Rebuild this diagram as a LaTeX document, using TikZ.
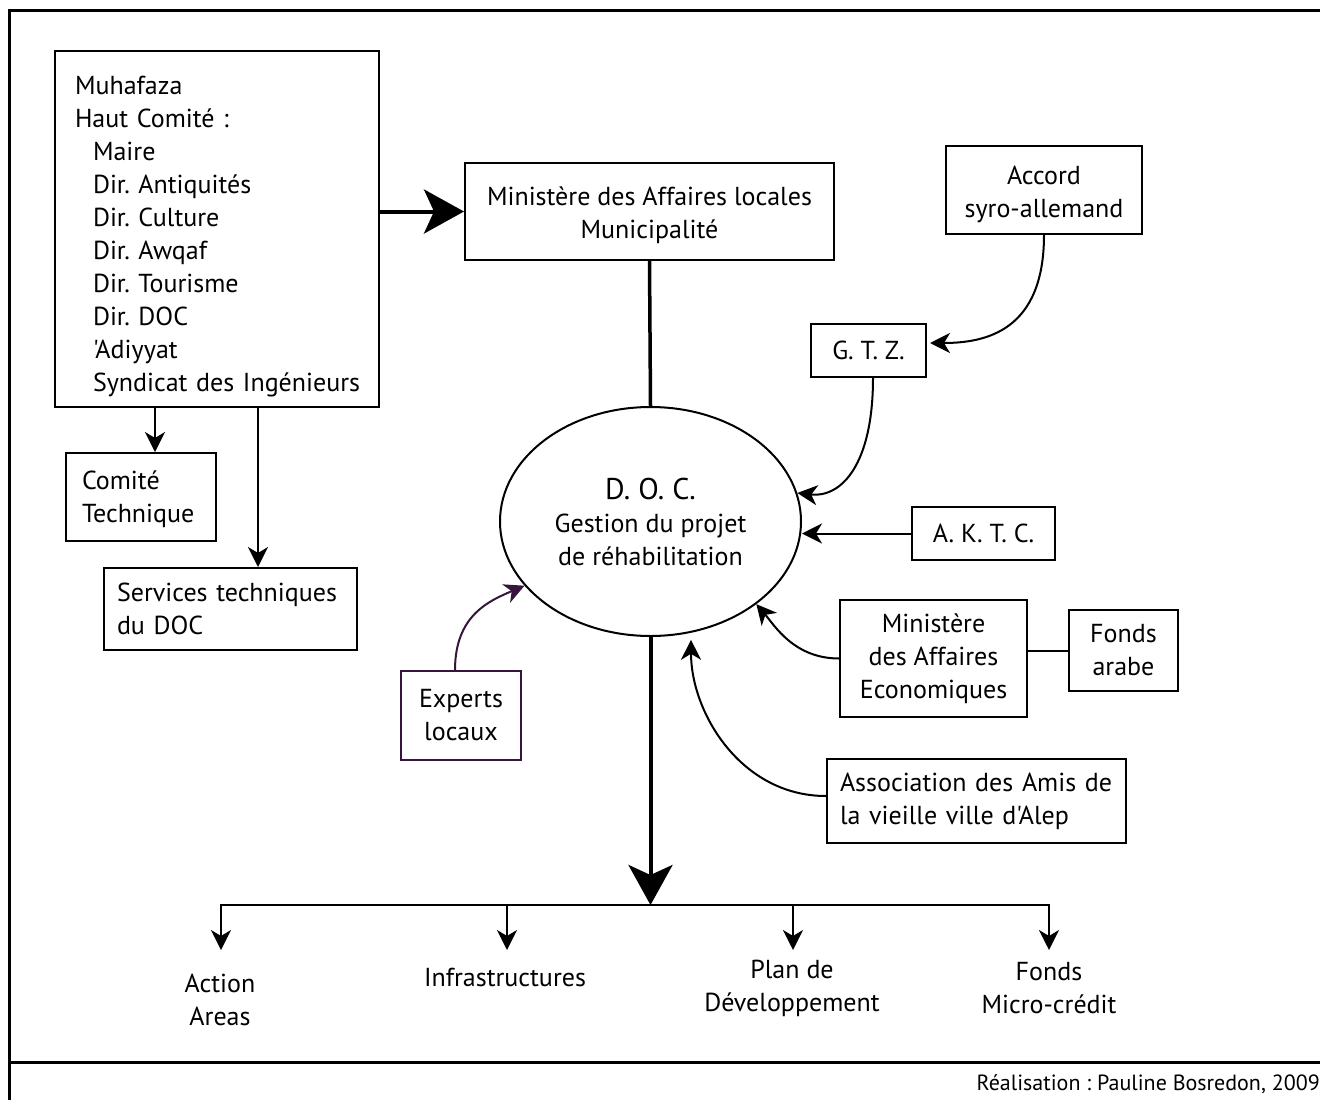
\documentclass[tikz,border=0pt]{standalone}
\usepackage{fontspec}
\setmainfont{PT Sans}[Ligatures=TeXOff]
\usetikzlibrary{arrows.meta,shapes.geometric}
\definecolor{expcol}{RGB}{55,20,60}
\frenchspacing
\newcommand{\toppad}[1]{\rule{0pt}{#1}}
\begin{document}
\begin{tikzpicture}[x=1pt,y=-1pt,
  every node/.style={font=\fontsize{26}{33}\selectfont},
  box/.style={draw, line width=2pt, inner sep=0pt, align=center},
  conn/.style={line width=2pt},
  sarr/.style={conn, -{Stealth[length=20pt,width=20pt,inset=6pt]}},
  barr/.style={line width=4pt, -{Stealth[length=40pt,width=44pt,inset=10pt]}},
  lab/.style={inner sep=0pt, align=center}
]
\useasboundingbox (0,0) rectangle (1320,1100);
% frame
\draw[line width=3pt] (9,1100) -- (9,10) -- (1320,10);
\draw[line width=3pt] (9,1062) -- (1320,1062);

% boxes
\node[box, minimum width=324pt, minimum height=356pt, align=left, text width=284pt] (muh) at (217,229)
 {\toppad{33pt}Muhafaza\\Haut Comité :\\\hspace*{18pt}Maire\\\hspace*{18pt}Dir. Antiquités\\\hspace*{18pt}Dir. Culture\\\hspace*{18pt}Dir. Awqaf\\\hspace*{18pt}Dir. Tourisme\\\hspace*{18pt}Dir. DOC\\\hspace*{18pt}'Adiyyat\\\hspace*{18pt}\mbox{Syndicat des Ingénieurs}};
\node[box, minimum width=369pt, minimum height=97pt] (min) at (649.5,211.5) {\toppad{26pt}Ministère des Affaires locales\\Municipalité};
\node[box, minimum width=196pt, minimum height=88pt] (acc) at (1044,190) {\toppad{27pt}Accord\\syro-allemand};
\node[box, minimum width=115pt, minimum height=53pt] (gtz) at (868.5,350.5) {G. T. Z.};
\node[box, minimum width=143pt, minimum height=53pt] (aktc) at (983.5,533.5) {A. K. T. C.};
\node[box, minimum width=187pt, minimum height=117pt] (mecon) at (933.5,658.5) {Ministère\\des Affaires\\Economiques};
\node[box, minimum width=109pt, minimum height=81pt] (fa) at (1123.5,650.5) {Fonds\\arabe};
\node[box, minimum width=299pt, minimum height=84pt, align=left, text width=273pt] (assoc) at (976.5,801) {Association des Amis de\\la vieille ville d'Alep};
\node[box, draw=expcol, minimum width=120pt, minimum height=89pt] (exp) at (461,715.5) {Experts\\locaux};
\node[box, minimum width=150pt, minimum height=88pt, align=left, text width=118pt] (com) at (141,497) {\toppad{24pt}Comité\\Technique};
\node[box, minimum width=253pt, minimum height=82pt, align=left, text width=227pt] (serv) at (230.5,609) {Services techniques\\du DOC};

% ellipse
\node[draw, ellipse, line width=2pt, minimum width=301pt, minimum height=229pt, inner sep=0pt, align=center] (doc) at (650.5,521.5)
 {{\fontsize{30}{33}\selectfont D. O. C.}\\Gestion du projet\\de réhabilitation};

% bottom labels
\node[lab] (aa) at (220,1000) {Action\\Areas};
\node[lab] (inf) at (505,977) {Infrastructures};
\node[lab] (plan) at (792,988) {Plan de\\Développement};
\node[lab] (fmc) at (1049,988) {Fonds\\Micro-crédit};

\node[anchor=base east, inner sep=0pt, font=\fontsize{22}{24}\selectfont] (cap) at (1320,1090) {Réalisation : Pauline Bosredon, 2009};

% connectors
\draw[barr] (muh.east |- min.west) -- (min.west);
\draw[line width=3.5pt] (min.south) -- (doc.north);
\draw[sarr] ([xshift=14pt]com.north |- muh.south) -- ([xshift=14pt]com.north);
\draw[sarr] ([xshift=27.5pt]serv.north |- muh.south) -- ([xshift=27.5pt]serv.north);

\draw[sarr, shorten >=3pt] (acc.south) .. controls +(0,95) and +(60,0) .. ([yshift=7.5pt]gtz.east);
\draw[sarr] ([xshift=4.5pt]gtz.south) .. controls +(0,85) and +(45,5) .. (doc.11);
\draw[sarr] (aktc.west) -- (aktc.west -| doc.east);
\draw[sarr] (mecon.west) .. controls +(-45,0) and +(18,21) .. (doc.-38);
\draw[conn] (fa.west -| mecon.east) -- (fa.west);
\draw[sarr, shorten >=7pt] ([yshift=5pt]assoc.west) .. controls +(-85,0) and +(0,80) .. (doc.-70);
\draw[sarr, draw=expcol] ([xshift=-6pt]exp.north) .. controls +(0,-55) and +(-35,15) .. (doc.207);

% bottom distribution
\coordinate (hc) at (650.5,905);
\coordinate (h1) at (221,905);
\coordinate (h2) at (507,905);
\coordinate (h3) at (793,905);
\coordinate (h4) at (1049,905);
\coordinate (t1) at (221,950);
\coordinate (t2) at (507,950);
\coordinate (t3) at (793,950);
\coordinate (t4) at (1049,950);
\draw[barr] (doc.south) -- (hc);
\draw[conn] ([xshift=-1pt]h1) -- ([xshift=1pt]h4);
\draw[sarr] (h1) -- (t1);
\draw[sarr] (h2) -- (t2);
\draw[sarr] (h3) -- (t3);
\draw[sarr] (h4) -- (t4);
\end{tikzpicture}
\end{document}
